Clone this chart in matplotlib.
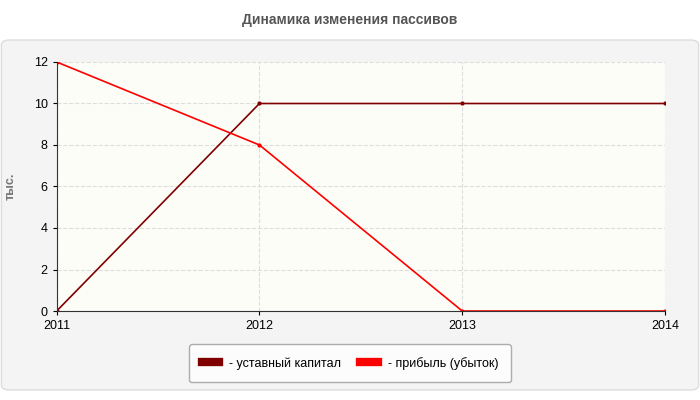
import matplotlib
matplotlib.use("Agg")
import matplotlib.pyplot as plt
from matplotlib.patches import FancyBboxPatch

years = ["2011", "2012", "2013", "2014"]
capital = [0, 10, 10, 10]
profit = [12, 8, 0, 0]
yticks = [0, 2, 4, 6, 8, 10, 12]

plt.rcParams["font.family"] = ["Liberation Sans", "DejaVu Sans"]

fig = plt.figure(figsize=(7, 4), dpi=100)
fig.patch.set_facecolor("white")

# grey panel behind the chart
panel = FancyBboxPatch((0.002, 0.025), 0.996, 0.875, boxstyle="round,pad=0,rounding_size=0.012",
                       transform=fig.transFigure, facecolor="#f4f4f4", edgecolor="#dddddd", lw=1,
                       zorder=-10)
fig.patches.append(panel)

fig.text(0.5, 0.95, "Динамика изменения пассивов", ha="center", va="center",
         fontsize=10, fontweight="bold", color="#555555")

ax = fig.add_axes([0.081, 0.2225, 0.869, 0.6225])
ax.set_zorder(1)
ax.set_facecolor("#fdfdf8")
x = range(len(years))
ax.plot(x, capital, color="#800000", lw=1.2, marker="o", ms=2, label="- уставный капитал")
ax.plot(x, profit, color="#ff0000", lw=1.2, marker="o", ms=2, label="- прибыль (убыток)")

ax.set_xlim(0, 3)
ax.set_ylim(0, 12)
ax.set_xticks(list(x))
ax.set_xticklabels(years)
ax.set_yticks(yticks)
ax.grid(True, color="#dddddd", ls="--", lw=0.8)
ax.tick_params(labelsize=9, colors="#000000", length=3)
for s in ["top", "right"]:
    ax.spines[s].set_visible(False)
ax.spines["left"].set_color("#333333")
ax.spines["bottom"].set_color("#333333")
ax.set_ylabel("тыс.", fontsize=9, fontweight="bold", color="#777777", labelpad=12)

leg = fig.legend(loc="center", bbox_to_anchor=(0.5, 0.092), ncol=2, fontsize=9,
                 frameon=True, handlelength=1.4, handleheight=0.8, columnspacing=1.5,
                 borderpad=1.0, fancybox=True)
leg.get_frame().set_edgecolor("#999999")
leg.get_frame().set_facecolor("white")
for h in leg.legend_handles:
    h.set_linewidth(6)
    h.set_marker("")

fig.savefig("out.png", dpi=100, facecolor=fig.get_facecolor())
